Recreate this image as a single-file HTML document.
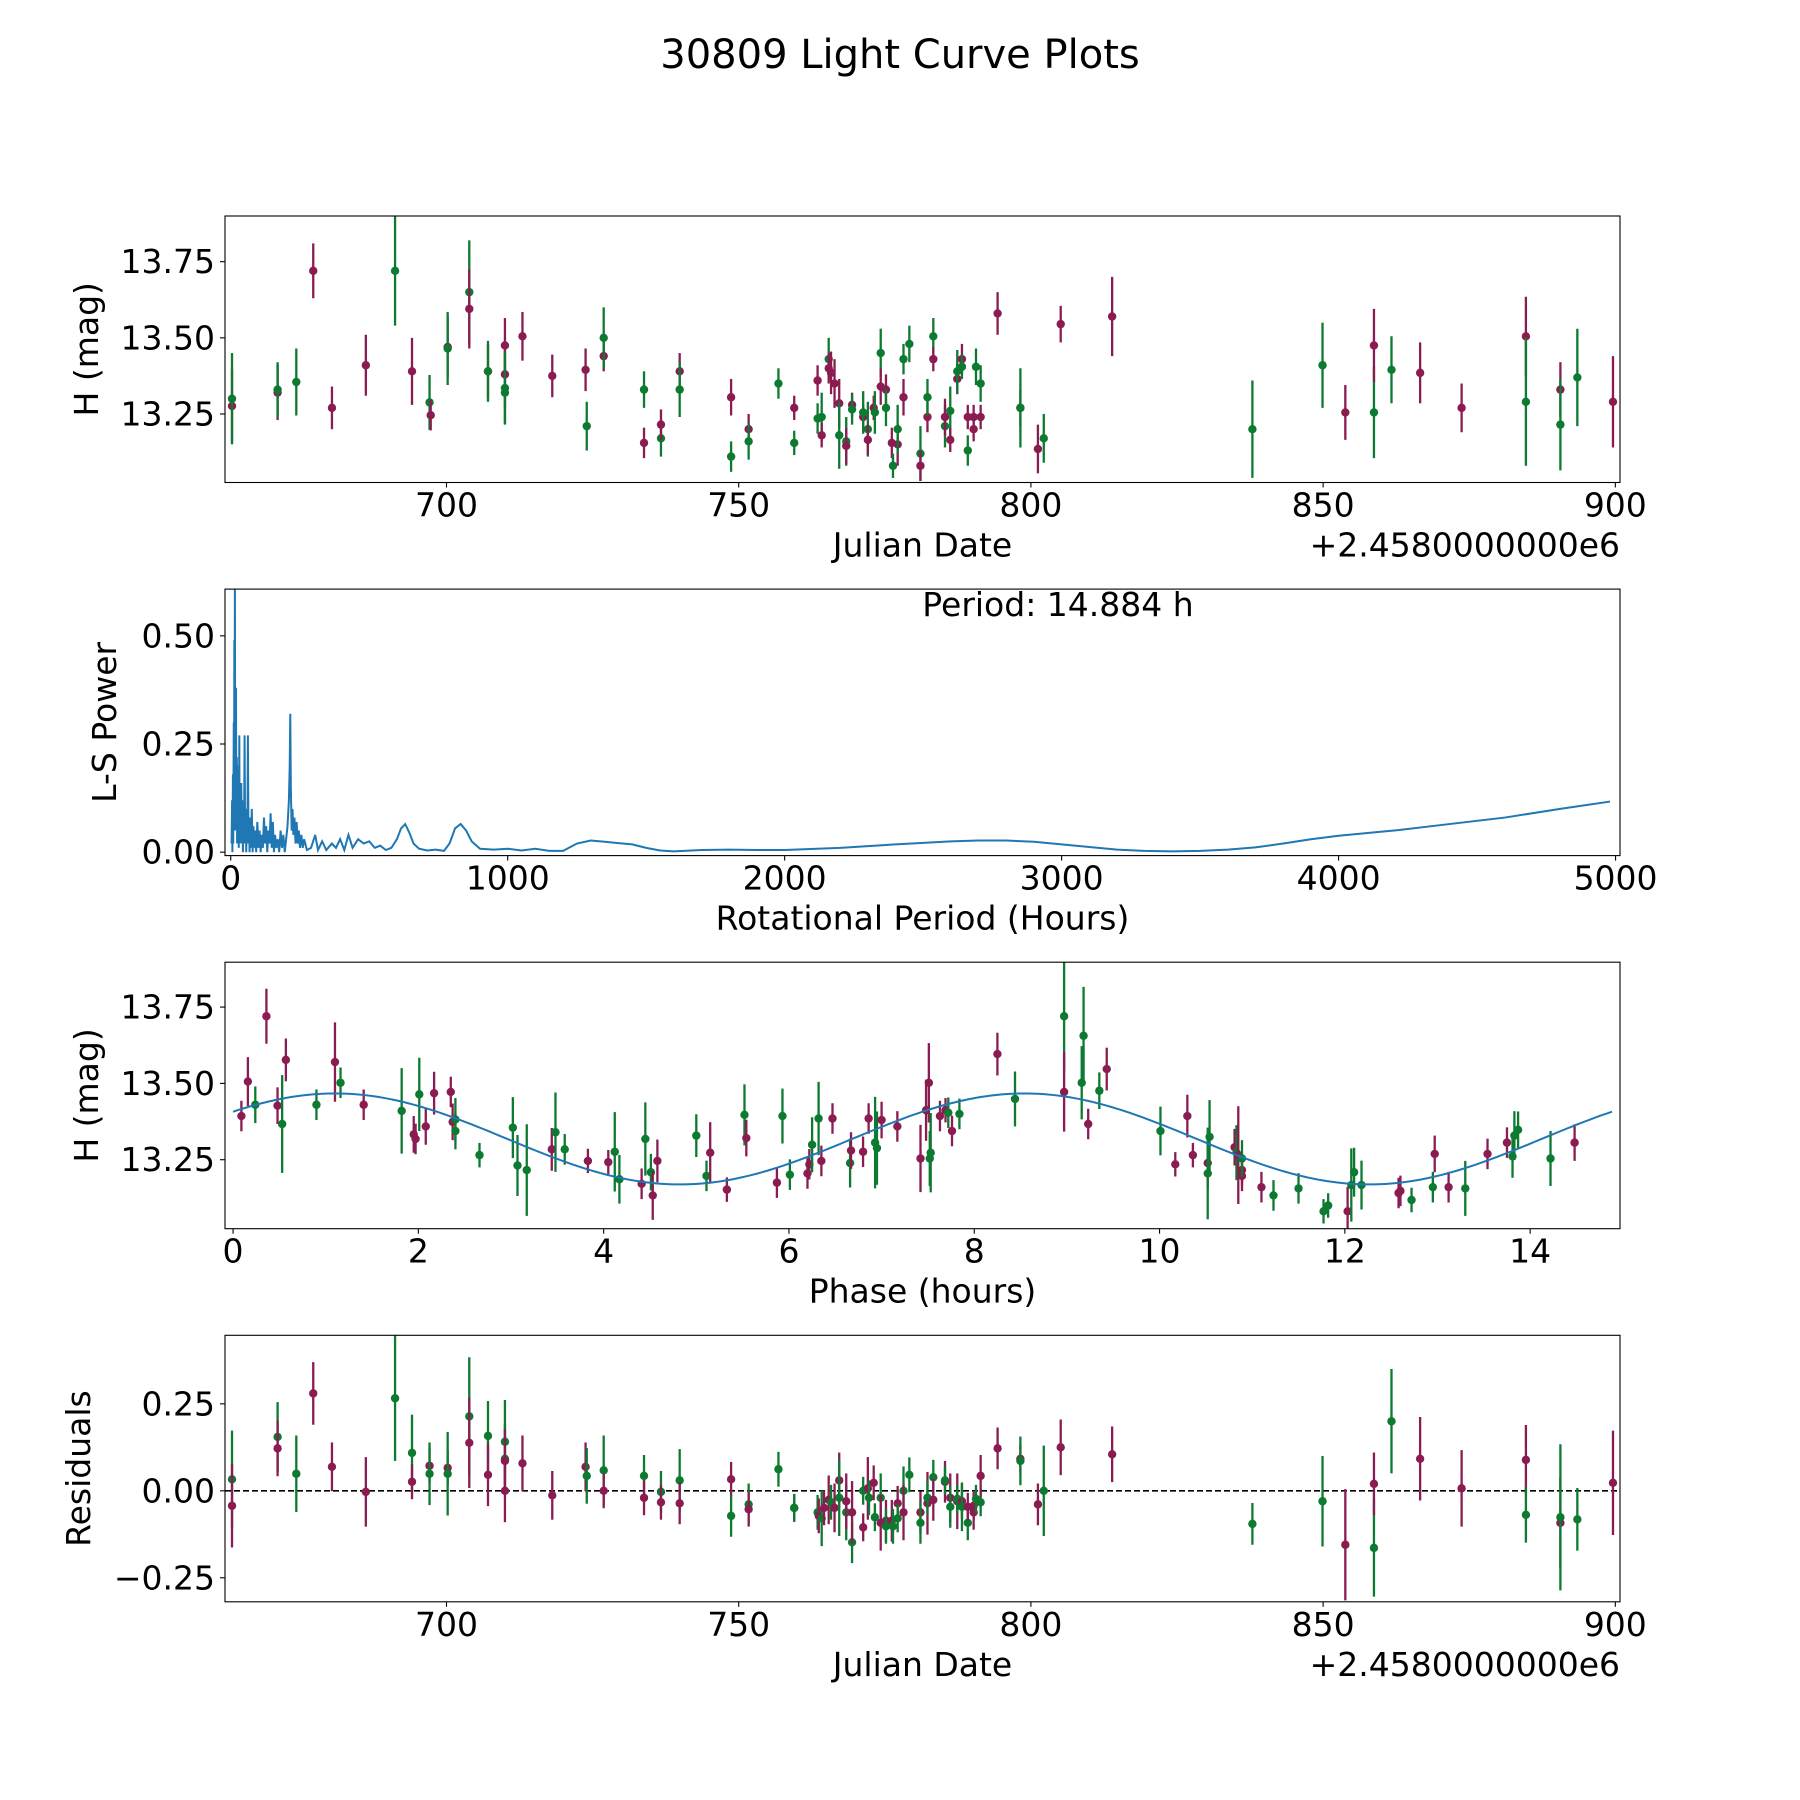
<!DOCTYPE html>
<html><head><meta charset="utf-8"><style>
html,body{margin:0;padding:0;background:#fff}
svg{display:block;font-family:"DejaVu Sans","Liberation Sans",sans-serif}
</style></head><body>
<svg id="fig" width="1800" height="1800" viewBox="0 0 1800 1800" xmlns="http://www.w3.org/2000/svg">
<rect width="1800" height="1800" fill="#fff"/>
<text x="900" y="68" font-size="40" text-anchor="middle">30809 Light Curve Plots</text>
</svg>
<script>
// ---- Light curve (panel 1) ----
const lcDate=[663.3,663.3,671.1,671.1,674.3,677.2,680.4,686.2,691.2,694.1,697.1,697.3,700.2,700.2,703.9,703.9,707.1,707.1,710.0,710.0,710.0,710.0,713.0,718.1,723.8,724.0,726.9,726.9,733.8,733.8,736.7,736.7,739.9,739.9,748.7,748.7,751.7,751.7,756.8,759.5,759.5,763.5,763.5,764.2,764.2,765.4,765.4,765.8,766.4,767.2,767.2,768.4,768.4,769.4,769.4,771.3,771.3,772.1,772.1,773.1,773.3,774.3,774.3,775.2,775.2,776.2,776.4,777.2,777.2,778.2,778.2,779.2,781.1,781.1,782.3,782.3,783.3,783.3,785.3,785.3,786.2,786.2,787.4,787.4,788.2,788.2,789.2,789.2,790.2,790.2,790.6,791.4,791.4,794.3,798.2,798.2,801.2,802.2,805.1,813.9,837.9,849.9,853.8,858.7,858.7,861.7,866.6,873.7,884.7,884.7,890.6,890.6,893.5,899.6];
const lcMag=[13.276,13.30,13.32,13.33,13.355,13.72,13.27,13.41,13.72,13.39,13.288,13.246,13.47,13.465,13.65,13.595,13.39,13.39,13.475,13.38,13.335,13.32,13.505,13.375,13.395,13.21,13.44,13.50,13.155,13.33,13.17,13.215,13.39,13.33,13.305,13.11,13.20,13.16,13.35,13.27,13.155,13.36,13.235,13.24,13.18,13.43,13.40,13.385,13.35,13.285,13.18,13.16,13.145,13.28,13.265,13.24,13.255,13.20,13.165,13.27,13.255,13.45,13.34,13.33,13.27,13.155,13.08,13.15,13.20,13.43,13.305,13.48,13.12,13.08,13.24,13.305,13.505,13.43,13.21,13.24,13.26,13.165,13.365,13.39,13.43,13.405,13.13,13.24,13.20,13.24,13.405,13.35,13.24,13.58,13.27,13.27,13.135,13.17,13.545,13.57,13.20,13.41,13.255,13.255,13.475,13.395,13.385,13.27,13.505,13.29,13.33,13.215,13.37,13.29];
const lcErr=[0.12,0.15,0.09,0.09,0.11,0.09,0.07,0.10,0.18,0.11,0.09,0.05,0.10,0.12,0.17,0.13,0.09,0.10,0.09,0.11,0.12,0.10,0.08,0.07,0.07,0.08,0.05,0.10,0.05,0.06,0.06,0.05,0.06,0.09,0.06,0.05,0.05,0.06,0.05,0.04,0.04,0.05,0.05,0.08,0.04,0.07,0.05,0.07,0.08,0.08,0.11,0.08,0.06,0.04,0.05,0.04,0.07,0.09,0.05,0.04,0.07,0.08,0.06,0.05,0.06,0.05,0.04,0.07,0.08,0.05,0.06,0.06,0.09,0.05,0.05,0.06,0.06,0.04,0.07,0.06,0.08,0.04,0.05,0.07,0.05,0.04,0.05,0.04,0.04,0.04,0.06,0.06,0.04,0.07,0.06,0.13,0.08,0.08,0.06,0.13,0.16,0.14,0.09,0.15,0.12,0.11,0.10,0.08,0.13,0.21,0.09,0.15,0.16,0.15];
const lcBand=("mg"+"mg"+"g"+"m"+"m"+"m"+"g"+"m"+"gm"+"mg"+"gm"+"mg"+"mmgg"+"m"+"m"+"mg"+"mg"+"mg"+"gm"+"mg"+"mg"+"mg"+"g"+"mg"+"mggm"+"gmmm"+"mg"+"gm"+"mg"+"mggm"+"mg"+"gmmg"+"mgmg"+"gmg"+"gm"+"mg"+"gm"+"gmgm"+"mgmg"+"gmmmggm"+"m"+"mg"+"mg"+"m"+"m"+"g"+"g"+"m"+"gm"+"g"+"m"+"m"+"mg"+"mg"+"g"+"m").split("");
// ---- Periodogram (panel 2) ----
const psPeriod=[3,5,6,8,9,11,12,13,14,15,16,18,19,20,22,23,25,26,28,29,31,32,34,36,38,40,42,44,46,48,50,52,54,56,58,60,62,64,66,68,70,73,76,79,82,85,88,92,96,100,104,108,112,116,120,124,128,132,136,140,144,148,152,156,160,165,170,175,180,185,190,195,200,205,210,213,215,217,220,223,226,230,234,238,242,246,250,255,260,265,275,290,305,315,330,345,365,380,395,410,425,440,460,480,500,520,540,560,580,600,615,630,645,660,680,710,740,770,790,810,830,850,870,900,950,1000,1050,1100,1150,1200,1250,1300,1350,1400,1450,1500,1550,1600,1700,1800,1900,2000,2200,2400,2600,2700,2800,2900,3000,3100,3200,3300,3400,3500,3600,3700,3800,3900,4000,4200,4400,4600,4800,4980];
const psPower=[0.02,0.12,0.0,0.18,0.02,0.3,0.05,0.49,0.1,0.65,0.2,0.05,0.38,0.1,0.22,0.02,0.2,0.05,0.15,0.01,0.27,0.04,0.1,0.02,0.16,0.03,0.1,0.0,0.12,0.02,0.27,0.03,0.08,0.0,0.1,0.02,0.27,0.03,0.06,0.0,0.08,0.01,0.1,0.0,0.06,0.01,0.05,0.0,0.07,0.01,0.05,0.0,0.04,0.01,0.08,0.02,0.06,0.0,0.05,0.02,0.09,0.01,0.07,0.0,0.04,0.01,0.03,0.0,0.05,0.01,0.04,0.0,0.03,0.06,0.12,0.2,0.32,0.15,0.05,0.1,0.04,0.08,0.02,0.07,0.02,0.05,0.01,0.04,0.01,0.03,0.005,0.01,0.04,0.005,0.025,0.005,0.02,0.01,0.03,0.005,0.04,0.01,0.03,0.02,0.025,0.01,0.015,0.005,0.01,0.03,0.055,0.065,0.045,0.02,0.008,0.004,0.006,0.003,0.02,0.055,0.065,0.05,0.025,0.008,0.006,0.008,0.004,0.008,0.003,0.003,0.02,0.027,0.024,0.021,0.018,0.01,0.004,0.002,0.005,0.006,0.005,0.005,0.01,0.018,0.025,0.027,0.027,0.024,0.018,0.012,0.006,0.003,0.002,0.003,0.006,0.011,0.02,0.03,0.038,0.05,0.065,0.08,0.1,0.117];
// ---- Phased light curve (panel 3) ----
const phX=[0.09,0.16,0.24,0.36,0.48,0.53,0.57,0.90,1.10,1.16,1.41,1.82,1.95,1.97,2.01,2.08,2.17,2.35,2.37,2.40,2.40,2.66,3.02,3.07,3.17,3.44,3.48,3.58,3.83,4.05,4.12,4.17,4.41,4.45,4.51,4.53,4.58,5.00,5.11,5.15,5.33,5.52,5.54,5.87,5.93,6.01,6.20,6.22,6.25,6.32,6.35,6.47,6.66,6.67,6.80,6.86,6.93,6.95,7.00,7.17,7.42,7.48,7.51,7.52,7.53,7.63,7.69,7.72,7.76,7.84,8.25,8.44,8.97,8.97,9.16,9.18,9.23,9.35,9.43,10.01,10.17,10.30,10.36,10.52,10.52,10.54,10.81,10.83,10.85,10.89,10.89,10.89,11.10,11.23,11.50,11.77,11.82,12.03,12.07,12.10,12.18,12.58,12.60,12.72,12.95,12.97,13.12,13.30,13.54,13.75,13.81,13.83,13.87,14.22,14.48];
const phMag=[13.393,13.506,13.43,13.72,13.427,13.367,13.577,13.43,13.57,13.502,13.43,13.41,13.333,13.318,13.464,13.359,13.468,13.472,13.374,13.382,13.344,13.265,13.355,13.231,13.216,13.284,13.34,13.284,13.246,13.242,13.276,13.186,13.171,13.318,13.209,13.133,13.246,13.329,13.197,13.273,13.152,13.397,13.321,13.175,13.393,13.201,13.205,13.235,13.299,13.385,13.246,13.385,13.239,13.28,13.276,13.385,13.306,13.288,13.38,13.359,13.254,13.412,13.502,13.254,13.273,13.393,13.412,13.404,13.344,13.40,13.596,13.449,13.72,13.472,13.502,13.656,13.367,13.476,13.547,13.344,13.235,13.393,13.265,13.239,13.205,13.325,13.291,13.273,13.265,13.197,13.216,13.254,13.16,13.133,13.156,13.081,13.10,13.081,13.167,13.209,13.167,13.141,13.148,13.118,13.16,13.269,13.16,13.156,13.269,13.306,13.261,13.329,13.348,13.254,13.306];
const phErr=[0.05,0.08,0.06,0.09,0.06,0.16,0.07,0.05,0.13,0.05,0.05,0.14,0.06,0.05,0.12,0.06,0.07,0.05,0.06,0.07,0.06,0.04,0.10,0.10,0.15,0.07,0.13,0.05,0.04,0.04,0.13,0.08,0.05,0.12,0.06,0.08,0.07,0.07,0.05,0.10,0.04,0.10,0.06,0.05,0.09,0.05,0.05,0.05,0.09,0.12,0.05,0.05,0.08,0.06,0.05,0.05,0.15,0.12,0.06,0.05,0.11,0.10,0.13,0.09,0.13,0.05,0.04,0.05,0.05,0.05,0.07,0.09,0.18,0.13,0.12,0.16,0.05,0.06,0.07,0.08,0.04,0.07,0.04,0.08,0.15,0.12,0.06,0.09,0.16,0.05,0.05,0.06,0.05,0.05,0.05,0.04,0.04,0.08,0.12,0.08,0.08,0.05,0.05,0.04,0.05,0.06,0.05,0.09,0.05,0.05,0.07,0.08,0.06,0.09,0.06];
const phBand=['m','m','g','m','m','g','m','g','m','g','m','g','m','m','g','m','m','m','m','g','g','g','g','g','g','m','g','g','m','m','g','g','m','g','g','m','m','g','g','m','m','g','m','m','g','g','m','m','g','g','m','m','g','m','m','m','g','g','m','m','m','m','m','g','g','m','m','g','m','g','m','g','g','m','g','g','m','g','m','g','m','m','m','m','g','g','m','g','m','m','m','g','m','g','g','g','g','m','g','g','g','m','m','g','g','m','m','g','m','m','g','g','g','g','m'];
// ---- Residuals (panel 4) ----
const resDate=[663.3,663.3,671.1,671.1,674.3,677.2,680.4,686.2,691.2,694.1,694.1,697.1,697.1,700.2,700.2,703.9,703.9,707.1,707.1,710.0,710.0,710.0,710.0,713.0,718.1,723.8,724.0,726.9,726.9,733.8,733.8,736.7,736.7,739.9,739.9,748.7,748.7,751.7,751.7,756.8,759.5,759.5,763.5,763.7,764.2,764.6,765.4,765.8,766.4,767.2,767.2,768.4,768.4,769.4,769.4,771.3,771.3,772.1,772.3,773.1,773.3,774.3,774.3,775.2,775.2,776.2,776.4,777.2,777.2,778.2,778.2,779.2,781.1,781.1,782.3,782.3,783.3,783.3,785.3,785.3,786.2,786.2,787.4,787.4,788.2,788.2,789.2,789.2,790.2,790.2,790.6,791.4,791.4,794.3,798.2,798.2,801.2,802.2,805.1,813.9,837.9,849.9,853.8,858.7,858.7,861.7,866.6,873.7,884.7,884.7,890.6,890.6,893.5,899.6];
const resVal=[0.033,-0.043,0.155,0.122,0.049,0.28,0.069,-0.003,0.266,0.109,0.026,0.072,0.049,0.066,0.049,0.214,0.138,0.158,0.046,0.141,0.092,0.086,0.0,0.079,-0.013,0.069,0.043,0.059,0.0,0.043,-0.02,-0.003,-0.033,0.03,-0.036,0.033,-0.072,-0.039,-0.053,0.062,-0.049,-0.049,-0.062,-0.072,-0.079,-0.049,-0.026,-0.033,-0.049,0.03,-0.02,-0.062,-0.03,-0.148,-0.062,-0.105,0.0,0.007,-0.02,0.023,-0.076,-0.02,-0.092,-0.086,-0.102,-0.086,-0.102,-0.036,-0.079,0.0,-0.062,0.046,-0.062,-0.092,-0.036,-0.02,0.039,-0.026,0.026,0.03,-0.02,-0.046,-0.03,-0.023,-0.03,-0.046,-0.092,-0.046,-0.062,-0.043,-0.023,-0.033,0.043,0.122,0.092,0.086,-0.039,0.0,0.125,0.105,-0.095,-0.03,-0.155,-0.164,0.02,0.2,0.092,0.007,0.089,-0.069,-0.092,-0.076,-0.082,0.023];
const resErr=[0.14,0.12,0.10,0.08,0.11,0.09,0.07,0.10,0.18,0.11,0.05,0.05,0.09,0.05,0.12,0.17,0.13,0.10,0.09,0.12,0.10,0.09,0.09,0.08,0.07,0.07,0.08,0.10,0.05,0.06,0.05,0.06,0.05,0.09,0.06,0.05,0.06,0.06,0.05,0.05,0.04,0.04,0.05,0.05,0.08,0.05,0.07,0.05,0.07,0.08,0.11,0.08,0.08,0.06,0.09,0.04,0.04,0.09,0.05,0.05,0.04,0.07,0.08,0.06,0.05,0.06,0.05,0.05,0.04,0.07,0.08,0.05,0.06,0.06,0.09,0.05,0.05,0.06,0.06,0.04,0.07,0.06,0.08,0.04,0.05,0.07,0.05,0.04,0.05,0.04,0.04,0.04,0.06,0.06,0.04,0.07,0.06,0.13,0.08,0.08,0.06,0.13,0.16,0.14,0.09,0.15,0.12,0.11,0.10,0.08,0.13,0.21,0.09,0.15,0.16,0.15];
const resBand=['g','m','g','m','g','m','m','m','g','g','m','m','g','m','g','g','m','g','m','g','g','m','m','m','m','m','g','g','m','g','m','g','m','g','m','m','g','g','m','g','m','g','g','m','g','m','m','g','m','m','g','g','m','g','m','m','g','m','g','m','g','g','m','m','g','m','g','m','g','g','m','g','m','g','m','g','g','m','m','g','m','g','m','g','m','g','g','m','m','m','g','g','m','m','m','g','m','g','m','m','g','g','m','g','m','g','m','m','m','g','m','g','g','m'];
// ---- Fit model (panel 3 curve) ----
const fitMean=[13.318];
const fitAmp=[0.149];
const fitPhase0=[1.1];
const fitPeriod=[14.884];

const NS="http://www.w3.org/2000/svg";
const svg=document.getElementById('fig');
const COL={m:'#8a1c52',g:'#0d7a31'};
const L=225,W=1395,H=266.5,TOPS=[216,589.1,962.2,1335.3],FS=33;
function mk(tag,attrs,parent){const e=document.createElementNS(NS,tag);for(const k in attrs)e.setAttribute(k,attrs[k]);(parent||svg).appendChild(e);return e;}
function scale(d0,d1,r0,r1){return v=>r0+(v-d0)*(r1-r0)/(d1-d0);}

function panel(i,xlim,ylim,xt,xtl,yt,ytl,xlabel,ylabel,ylabX,offset){
  const T=TOPS[i],B=T+H;
  const g=mk('g',{});
  
  
  const x=scale(xlim[0],xlim[1],L,L+W), y=scale(ylim[0],ylim[1],B,T);
  const cp=mk('clipPath',{id:'clip'+i},g);mk('rect',{x:L,y:T,width:W,height:H},cp);
  const plot=mk('g',{'clip-path':'url(#clip'+i+')'},g);
  
  
  xt.forEach((v,k)=>{const px=x(v);
    const t=mk('line',{x1:px,x2:px,y1:B,y2:B+5,stroke:'#000','stroke-width':1.1},g);
    
    const tl=mk('text',{x:px,y:B+34,'font-size':FS,'text-anchor':'middle'},g);tl.textContent=xtl[k];
    });
  yt.forEach((v,k)=>{const py=y(v);
    const t=mk('line',{x1:L-5,x2:L,y1:py,y2:py,stroke:'#000','stroke-width':1.1},g);
    
    const tl=mk('text',{x:215,y:py+11.5,'font-size':FS,'text-anchor':'end'},g);tl.textContent=ytl[k];
    });
  const xl=mk('text',{x:L+W/2,y:B+74,'font-size':FS,'text-anchor':'middle'},g);xl.textContent=xlabel;
  
  const yc=T+H/2;
  const yl=mk('text',{x:ylabX,y:yc,'font-size':FS,'text-anchor':'middle',transform:`rotate(-90 ${ylabX} ${yc})`},g);yl.textContent=ylabel;
  
  if(offset){const o=mk('text',{x:L+W,y:B+74,'font-size':FS,'text-anchor':'end'},g);o.textContent=offset;
    }
  return {x,y,plot,g,T,B};
}
function errpts(p,xs,ys,es,bs,nm){
  xs.forEach((xv,k)=>{const c=COL[bs[k]]||COL.m;const px=p.x(xv);const e=(es[k]===undefined)?0.08:es[k];
    const l=mk('line',{x1:px,x2:px,y1:p.y(ys[k]-e),y2:p.y(ys[k]+e),stroke:c,'stroke-width':2.3},p.plot);
    
    const d=mk('circle',{cx:px,cy:p.y(ys[k]),r:4.2,fill:c},p.plot);
    });
}
function frame(p){const r=mk('rect',{x:L,y:p.T,width:W,height:H,fill:'none',stroke:'#000','stroke-width':1.1},p.g);
  }

const jdTicks=[700,750,800,850,900];
const p1=panel(0,[662.1,900.8],[13.025,13.90],jdTicks,jdTicks.map(String),[13.25,13.5,13.75],['13.25','13.50','13.75'],'Julian Date','H (mag)',98,'+2.4580000000e6');
errpts(p1,lcDate,lcMag,lcErr,lcBand,'light-curve');frame(p1);

const p2=panel(1,[-20.7,5016],[-0.0079,0.608],[0,1000,2000,3000,4000,5000],['0','1000','2000','3000','4000','5000'],[0,0.25,0.5],['0.00','0.25','0.50'],'Rotational Period (Hours)','L-S Power',116,null);
const psLine=mk('polyline',{points:psPeriod.map((v,k)=>p2.x(v)+','+p2.y(psPower[k])).join(' '),fill:'none',stroke:'#1f77b4','stroke-width':2},p2.plot);

frame(p2);
const pt=mk('text',{x:1058,y:616,'font-size':FS,'text-anchor':'middle'},p2.g);pt.textContent='Period: 14.884 h';


const p3=panel(2,[-0.087,14.97],[13.024,13.897],[0,2,4,6,8,10,12,14],['0','2','4','6','8','10','12','14'],[13.25,13.5,13.75],['13.25','13.50','13.75'],'Phase (hours)','H (mag)',98,null);
errpts(p3,phX,phMag,phErr,phBand,'phased');
const fitPts=[];for(let s=0;s<=300;s++){const ph=fitPeriod[0]*s/300;fitPts.push(p3.x(ph)+','+p3.y(fitMean[0]+fitAmp[0]*Math.cos(4*Math.PI*(ph-fitPhase0[0])/fitPeriod[0])));}
const fit=mk('polyline',{points:fitPts.join(' '),fill:'none',stroke:'#1f77b4','stroke-width':2},p3.plot);

frame(p3);

const p4=panel(3,[662.1,900.8],[-0.319,0.447],jdTicks,jdTicks.map(String),[-0.25,0,0.25],['\u22120.25','0.00','0.25'],'Julian Date','Residuals',90,'+2.4580000000e6');
const zl=mk('line',{x1:L,x2:L+W,y1:p4.y(0),y2:p4.y(0),stroke:'#000','stroke-width':1.6,'stroke-dasharray':'6,3'},p4.plot);

errpts(p4,resDate,resVal,resErr,resBand,'residual');frame(p4);
</script>
</body></html>
